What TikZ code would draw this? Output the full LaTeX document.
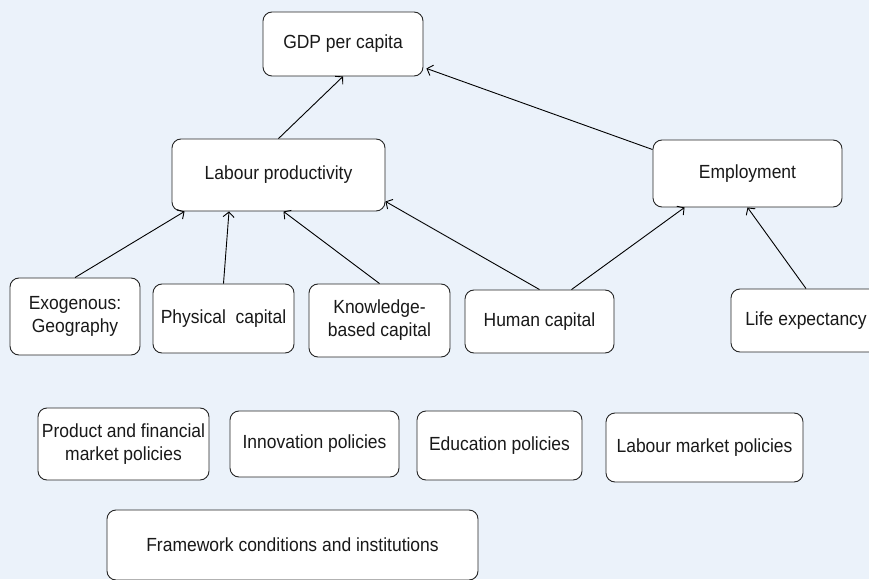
\documentclass[tikz,border=0pt]{standalone}
\usepackage{fontspec}
\setmainfont{Liberation Sans}[FakeStretch=0.92]
\usepackage{xcolor}
\usetikzlibrary{arrows.meta}
\definecolor{bgblue}{RGB}{235,242,250}

\begin{document}
\begin{tikzpicture}[x=1pt, y=1pt,
    box/.style={draw=black!85, fill=white, rounded corners=9pt, line width=0.9pt,
        align=center, inner sep=0pt, text=black!90, font=\fontsize{19}{23}\selectfont},
    link/.style={line width=0.9pt, -{Straight Barb[length=5pt,width=11pt]}}]
    \useasboundingbox (0,0) rectangle (869,579);
    \fill[bgblue] (0,0) rectangle (869,579);

    % outcomes
    \node[box, minimum width=160, minimum height=64] (gdp) at (343,535) {GDP per capita};
    \node[box, minimum width=213, minimum height=72] (lab) at (278.5,404) {Labour productivity};
    \node[box, minimum width=189, minimum height=67] (emp) at (747.5,405.5) {Employment};

    % drivers
    \node[box, minimum width=130, minimum height=77] (exo) at (75,262.5) {Exogenous:\\Geography};
    \node[box, minimum width=141, minimum height=69] (phy) at (223.5,260.5) {Physical\ \ capital};
    \node[box, minimum width=141, minimum height=73] (kno) at (379.5,258.5) {Knowledge-\\based capital};
    \node[box, minimum width=149, minimum height=63] (hum) at (539.5,257.5) {Human capital};
    \node[box, minimum width=150, minimum height=63] (lif) at (806,258.5) {Life expectancy};

    % policies
    \node[box, minimum width=171, minimum height=72] (pfm) at (123.5,135) {Product and financial\\market policies};
    \node[box, minimum width=169, minimum height=66] (inn) at (314.5,135) {Innovation policies};
    \node[box, minimum width=165, minimum height=69] (edu) at (499.5,133.5) {Education policies};
    \node[box, minimum width=197, minimum height=69] (lmp) at (704.5,131.5) {Labour market policies};
    \node[box, minimum width=371, minimum height=70] (fwk) at (292.5,34) {Framework conditions and institutions};

    % links
    \draw[link] (lab.north) -- (gdp.south);
    \draw[link] ([yshift=-10pt]emp.north west) -- ([shift={(3pt,8pt)}]gdp.south east);
    \draw[link] (exo.north) -- ([xshift=13pt]lab.south west);
    \draw[link] (phy.north) -- ([xshift=-49.5pt]lab.south);
    \draw[link] (kno.north) -- ([xshift=5pt]lab.south);
    \draw[link] (hum.north) -- ([yshift=10pt]lab.south east);
    \draw[link] ([xshift=32pt]hum.north) -- ([xshift=32pt]emp.south west);
    \draw[link] (lif.north) -- (emp.south);
\end{tikzpicture}
\end{document}
